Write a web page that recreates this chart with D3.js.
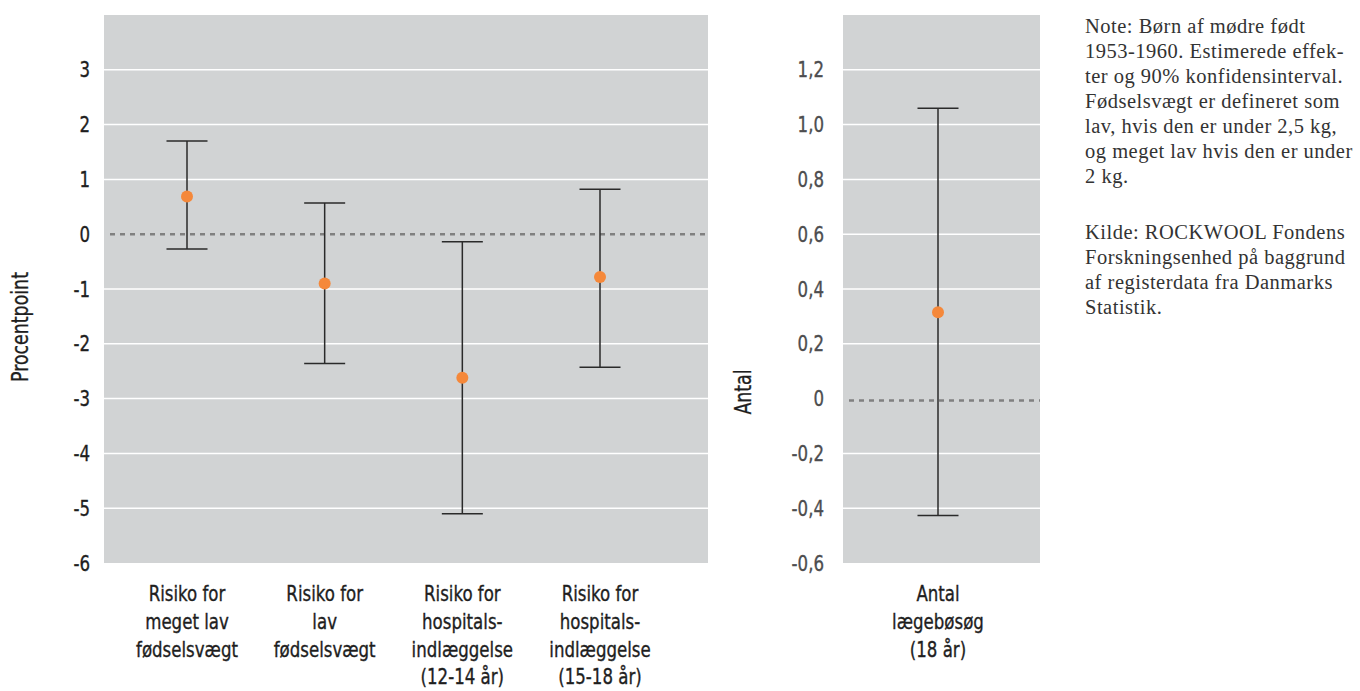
<!DOCTYPE html>
<html>
<head>
<meta charset="utf-8">
<script src="https://cdn.jsdelivr.net/npm/d3@7"></script>
<style>
  body { margin: 0; background: #fff; }
  svg { display: block; }
  .cond { font-family: "DejaVu Sans Condensed", "DejaVu Sans", sans-serif; font-stretch: condensed; }
  .note { font-family: "Liberation Serif", "DejaVu Serif", serif; }
</style>
</head>
<body>
<div id="chart"></div>
<script>
// left panel: effects in percentage points
const categories = [
    ["Risiko for", "meget lav", "fødselsvægt"],
    ["Risiko for", "lav", "fødselsvægt"],
    ["Risiko for", "hospitals-", "indlæggelse", "(12-14 år)"],
    ["Risiko for", "hospitals-", "indlæggelse", "(15-18 år)"]
];
const estimates = [0.69, -0.90, -2.62, -0.78];
const lowerCI = [-0.27, -2.36, -5.10, -2.43];
const upperCI = [1.70, 0.57, -0.14, 0.82];
const leftTicks = [-6, -5, -4, -3, -2, -1, 0, 1, 2, 3];

// right panel: number of doctor visits
const rightCategories = [["Antal", "lægebøsøg", "(18 år)"]];
const rightEstimates = [0.315];
const rightLowerCI = [-0.427];
const rightUpperCI = [1.06];
const rightTicks = [-0.6, -0.4, -0.2, 0, 0.2, 0.4, 0.6, 0.8, 1.0, 1.2];

const noteLines = [
    "Note: Børn af mødre født",
    "1953-1960. Estimerede effek-",
    "ter og 90% konfidensinterval.",
    "Fødselsvægt er defineret som",
    "lav, hvis den er under 2,5 kg,",
    "og meget lav hvis den er under",
    "2 kg."
];
const sourceLines = [
    "Kilde: ROCKWOOL Fondens",
    "Forskningsenhed på baggrund",
    "af registerdata fra Danmarks",
    "Statistik."
];

const W = 1360, H = 691;
const plotTop = 15, plotBottom = 563;
const grey = "#d1d3d4", orange = "#f5883a", ink = "#2a2a2a";

const svg = d3.select("#chart").append("svg")
    .attr("width", W)
    .attr("height", H);

// the original uses a condensed face; squeeze the installed one to match its width
const probe = svg.append("text").attr("class", "cond")
    .style("font-size", "22px").text("fødselsvægt");
const k = Math.min(1, 102 / probe.node().getComputedTextLength());
probe.remove();

const dash = s => s.replace("\u2212", "-");

function panel(opts) {
    const g = svg.append("g").attr("transform", `translate(${opts.left},0)`);
    const w = opts.width;

    const y = d3.scaleLinear().domain(opts.domain).range([plotBottom, plotTop]);
    const x = d3.scalePoint().domain(d3.range(opts.cats.length)).range(opts.xRange);

    g.append("rect")
        .attr("x", 0).attr("y", plotTop)
        .attr("width", w).attr("height", plotBottom - plotTop)
        .attr("fill", grey);

    // white grid lines, zero gets a dashed line instead
    g.selectAll(".grid")
        .data(opts.ticks.filter(t => t !== 0 && t !== opts.domain[0]))
        .enter().append("line")
        .attr("x1", 0).attr("x2", w)
        .attr("y1", d => y(d)).attr("y2", d => y(d))
        .attr("stroke", "#fff")
        .attr("stroke-width", 1.5);

    g.append("line")
        .attr("x1", 6).attr("x2", w)
        .attr("y1", y(0) + opts.zeroShift).attr("y2", y(0) + opts.zeroShift)
        .attr("stroke", "#808080")
        .attr("stroke-width", 2.5)
        .attr("stroke-dasharray", "5,5");

    const yAxis = d3.axisLeft(y)
        .tickValues(opts.ticks)
        .tickSize(0)
        .tickPadding(opts.tickPad)
        .tickFormat(d => dash(opts.fmt(d)));

    const ax = g.append("g").attr("class", "cond").call(yAxis);
    ax.attr("font-family", null).attr("font-size", null);
    ax.select(".domain").remove();
    ax.selectAll("text")
        .style("font-size", "22px")
        .attr("fill", opts.tickColor)
        .attr("stroke", opts.tickColor)
        .attr("stroke-width", 0.35)
        .attr("x", -opts.tickPad / k)
        .attr("transform", `scale(${k},1)`);

    // error bars
    const cap = 20.5;
    const bars = g.selectAll(".bar")
        .data(opts.est.map((e, i) => ({ i, e, lo: opts.lo[i], hi: opts.hi[i] })))
        .enter().append("g");

    bars.append("line")
        .attr("x1", d => x(d.i)).attr("x2", d => x(d.i))
        .attr("y1", d => y(d.hi)).attr("y2", d => y(d.lo))
        .attr("stroke", ink).attr("stroke-width", 1.5);
    bars.append("line")
        .attr("x1", d => x(d.i) - cap).attr("x2", d => x(d.i) + cap)
        .attr("y1", d => y(d.hi)).attr("y2", d => y(d.hi))
        .attr("stroke", ink).attr("stroke-width", 1.5);
    bars.append("line")
        .attr("x1", d => x(d.i) - cap).attr("x2", d => x(d.i) + cap)
        .attr("y1", d => y(d.lo)).attr("y2", d => y(d.lo))
        .attr("stroke", ink).attr("stroke-width", 1.5);
    bars.append("circle")
        .attr("cx", d => x(d.i)).attr("cy", d => y(d.e))
        .attr("r", 6)
        .attr("fill", orange);

    // category labels
    const lab = g.selectAll(".cat")
        .data(opts.cats)
        .enter().append("text")
        .attr("class", "cond")
        .attr("text-anchor", "middle")
        .attr("transform", `scale(${k},1)`)
        .style("font-size", "22px")
        .attr("fill", "#1e1e1e")
        .attr("stroke", "#1e1e1e")
        .attr("stroke-width", 0.35);
    lab.each(function(lines, i) {
        d3.select(this).selectAll("tspan")
            .data(lines)
            .enter().append("tspan")
            .attr("x", x(i) / k)
            .attr("y", (d, j) => 601 + j * 27.8)
            .text(d => d);
    });

    // axis title
    g.append("text")
        .attr("class", "cond")
        .attr("transform", `translate(${opts.titleX},${opts.titleY}) rotate(-90) scale(${k},1)`)
        .attr("text-anchor", "middle")
        .style("font-size", "23px")
        .attr("fill", "#1e1e1e")
        .attr("stroke", "#1e1e1e")
        .attr("stroke-width", 0.3)
        .text(opts.title);
}

panel({
    left: 104, width: 604,
    domain: [-6, 4], ticks: leftTicks,
    fmt: d3.format("d"),
    cats: categories, xRange: [83, 496],
    est: estimates, lo: lowerCI, hi: upperCI,
    tickPad: 14, tickColor: "#1e1e1e",
    title: "Procentpoint", titleX: -76, titleY: 327,
    zeroShift: 0
});

panel({
    left: 843, width: 197,
    domain: [-0.6, 1.4], ticks: rightTicks,
    fmt: d => d === 0 ? "0" : d3.format(".1f")(d).replace(".", ","),
    cats: rightCategories, xRange: [95, 95],
    est: rightEstimates, lo: rightLowerCI, hi: rightUpperCI,
    tickPad: 19, tickColor: "#4d4d4f",
    title: "Antal", titleX: -92, titleY: 392,
    zeroShift: 2
});

// note and source text
const note = svg.append("text")
    .attr("class", "note")
    .style("font-size", "20.5px")
    .style("letter-spacing", "0.5px")
    .attr("fill", "#333");
note.selectAll("tspan")
    .data(noteLines.concat([""], sourceLines))
    .enter().append("tspan")
    .attr("x", 1085)
    .attr("y", (d, i) => 33 + i * 25 + (i > 7 ? 6 : 0))
    .text(d => d);
</script>
</body>
</html>
